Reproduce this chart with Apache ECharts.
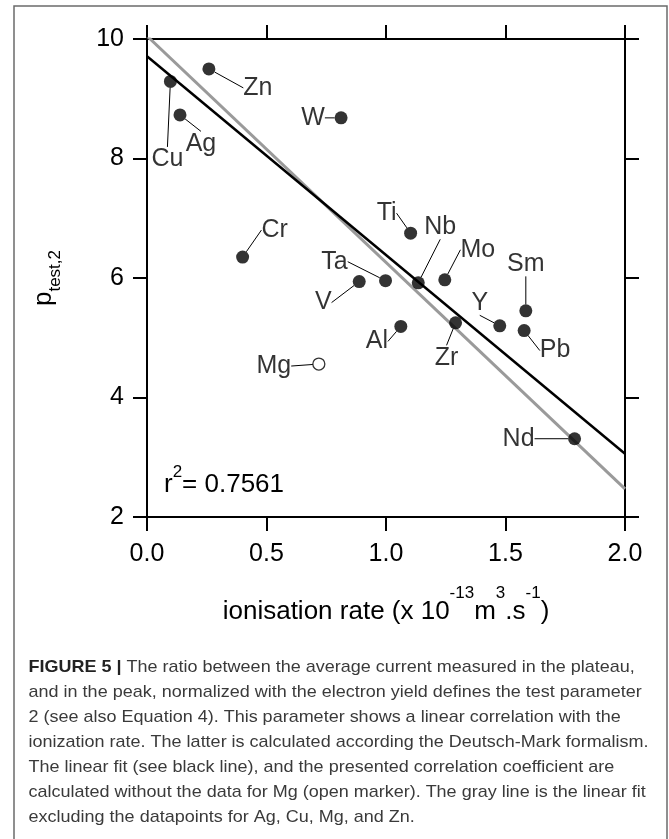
<!DOCTYPE html>
<html><head><meta charset="utf-8">
<script src="https://cdn.jsdelivr.net/npm/echarts@6/dist/echarts.min.js"></script>
<style>html,body{margin:0;padding:0;background:#fff}#c{width:669px;height:839px}</style>
</head><body><div id="c"></div>
<script>
// ---- data ----
const elements = ['Zn','Cu','Ag','W','Cr','Ti','Nb','Ta','V','Mo','Sm','Y','Pb','Al','Zr','Nd'];
const ionRate  = [0.259,0.098,0.138,0.812,0.400,1.103,1.135,0.998,0.888,1.246,1.585,1.476,1.578,1.062,1.291,1.789];
const ptest2   = [9.50,9.29,8.73,8.68,6.35,6.75,5.92,5.955,5.94,5.97,5.45,5.20,5.12,5.19,5.25,3.31];
const openElements = ['Mg'];
const openRate = [0.719];
const openP = [4.56];
const fitAllX = [0, 2];
const fitAllY = [9.71, 3.06];
const fitSubX = [0, 2];
const fitSubY = [10.05, 2.47];
const xTicks = ['0.0','0.5','1.0','1.5','2.0'];
const yTicks = ['2','4','6','8','10'];
const r2Text = '0.7561';
const captionLines = [
  'The ratio between the average current measured in the plateau,',
  'and in the peak, normalized with the electron yield defines the test parameter',
  '2 (see also Equation 4). This parameter shows a linear correlation with the',
  'ionization rate. The latter is calculated according the Deutsch-Mark formalism.',
  'The linear fit (see black line), and the presented correlation coefficient are',
  'calculated without the data for Mg (open marker). The gray line is the linear fit',
  'excluding the datapoints for Ag, Cu, Mg, and Zn.'
];

// ---- label offsets (pixels, layout only) ----
const labelOffsets = {
  Zn:[49,19], Cu:[-3,78], Ag:[21,29], W:[-28,0], Cr:[32,-27], Ti:[-24,-20],
  Nb:[22,-56], Ta:[-51,-19], V:[-36,21], Mo:[33,-30], Sm:[0,-47], Y:[-20,-23],
  Pb:[31,20], Al:[-24,15], Zr:[-9,35], Nd:[-56,0], Mg:[-45,2]
};

const FONT = '"Liberation Sans", Arial, sans-serif';
const chart = echarts.init(document.getElementById('c'));

const filled = elements.map((n,i)=>({name:n, value:[ionRate[i], ptest2[i]]}));
const open = openElements.map((n,i)=>({name:n, value:[openRate[i], openP[i]]}));

const tickFmtX = v => { const i = Math.round(v/0.5); return xTicks[i] !== undefined ? xTicks[i] : ''; };
const tickFmtY = v => { const i = Math.round((v-2)/2); return yTicks[i] !== undefined ? yTicks[i] : ''; };

const axisCommon = {
  min: 0, max: 2, interval: 0.5,
  axisLine: {show:true, onZero:false, lineStyle:{color:'#000', width:2}},
  axisTick: {show:true, inside:false, length:14, lineStyle:{color:'#000', width:2}},
  splitLine: {show:false}
};
const yCommon = {
  min: 2, max: 10, interval: 2,
  axisLine: {show:true, onZero:false, lineStyle:{color:'#000', width:2}},
  axisTick: {show:true, inside:false, length:14, lineStyle:{color:'#000', width:2}},
  splitLine: {show:false}
};

function layoutFor(names){
  return function(p){
    const o = labelOffsets[names[p.dataIndex]] || [0,0];
    return {dx:o[0], dy:o[1]};
  };
}

// caption text scaling
const ctx = document.createElement('canvas').getContext('2d');
const capFont = 17;
ctx.font = capFont + 'px ' + FONT;
const capScale = 620 / ctx.measureText(captionLines[3]).width;
const capY0 = 667, capDy = 25;
const captionGraphics = captionLines.map((t,i)=>({
  type:'text', x:28.6, y:capY0 + i*capDy, scaleX:capScale, silent:true,
  style:{
    text: i===0 ? '{b|FIGURE 5 |} ' + t : t,
    fill:'#3a3a3a', font: capFont + 'px ' + FONT,
    verticalAlign:'middle', align:'left',
    rich: {b:{fontWeight:'bold', fontSize:capFont, fontFamily:FONT, fill:'#222'}}
  }
}));

chart.setOption({
  animation:false,
  backgroundColor:'#fff',
  textStyle:{fontFamily:FONT},
  grid:{left:147, right:44, top:39, bottom:322},
  xAxis:[
    Object.assign({}, axisCommon, {type:'value', position:'bottom',
      name:'{a|ionisation rate (x 10}{s|-13}{a|m}{s|3}{a|.s}{s|-1}{a|)}',
      nameLocation:'middle', nameGap:68,
      nameTextStyle:{rich:{
        a:{fontSize:26, lineHeight:54, color:'#000', fontFamily:FONT},
        s:{fontSize:17, lineHeight:17, verticalAlign:'top', color:'#000', fontFamily:FONT}
      }},
      axisLabel:{show:true, fontSize:25, color:'#000', margin:25, formatter:tickFmtX, fontFamily:FONT}}),
    Object.assign({}, axisCommon, {type:'value', position:'top', axisLabel:{show:false}})
  ],
  yAxis:[
    Object.assign({}, yCommon, {type:'value', position:'left',
      name:'{p|p}{b|test,2}', nameLocation:'middle', nameGap:68, nameRotate:90,
      nameTextStyle:{rich:{
        p:{fontSize:26, lineHeight:24, verticalAlign:'top', color:'#000', fontFamily:FONT},
        b:{fontSize:17, lineHeight:48, color:'#000', fontFamily:FONT}
      }},
      axisLabel:{show:true, fontSize:25, color:'#000', margin:23, formatter:tickFmtY, fontFamily:FONT}}),
    Object.assign({}, yCommon, {type:'value', position:'right', axisLabel:{show:false}})
  ],
  graphic:[
    {type:'rect', shape:{x:14, y:6, width:653, height:860}, style:{fill:'none', stroke:'#6b6b6b', lineWidth:1.5}, silent:true},
    {type:'text', x:164, y:464, silent:true, style:{
      text:'{r|r}{s|2}{r|= ' + r2Text + '}', fill:'#000',
      rich:{ r:{fontSize:26, lineHeight:42, fontFamily:FONT, fill:'#000'},
             s:{fontSize:17, lineHeight:17, verticalAlign:'top', fontFamily:FONT, fill:'#000'} }
    }}
  ].concat(captionGraphics),
  series:[
    {type:'line', data:fitSubX.map((x,i)=>[x, fitSubY[i]]), symbol:'none', clip:true,
     lineStyle:{color:'#9a9a9a', width:3}, z:2, silent:true},
    {type:'line', data:fitAllX.map((x,i)=>[x, fitAllY[i]]), symbol:'none', clip:true,
     lineStyle:{color:'#000', width:2.5}, z:3, silent:true},
    {type:'scatter', data:filled, symbol:'circle', symbolSize:13,
     itemStyle:{color:'#000'}, z:5,
     label:{show:true, position:'inside', formatter:'{b}', fontSize:25, color:'#000', fontFamily:FONT},
     labelLine:{show:true, lineStyle:{color:'#000', width:1}},
     labelLayout: layoutFor(elements)},
    {type:'scatter', data:open, symbol:'circle', symbolSize:12,
     itemStyle:{color:'#fff', borderColor:'#000', borderWidth:1.3}, z:5,
     label:{show:true, position:'inside', formatter:'{b}', fontSize:25, color:'#000', fontFamily:FONT},
     labelLine:{show:true, lineStyle:{color:'#000', width:1}},
     labelLayout: layoutFor(openElements)}
  ]
});
</script></body></html>
